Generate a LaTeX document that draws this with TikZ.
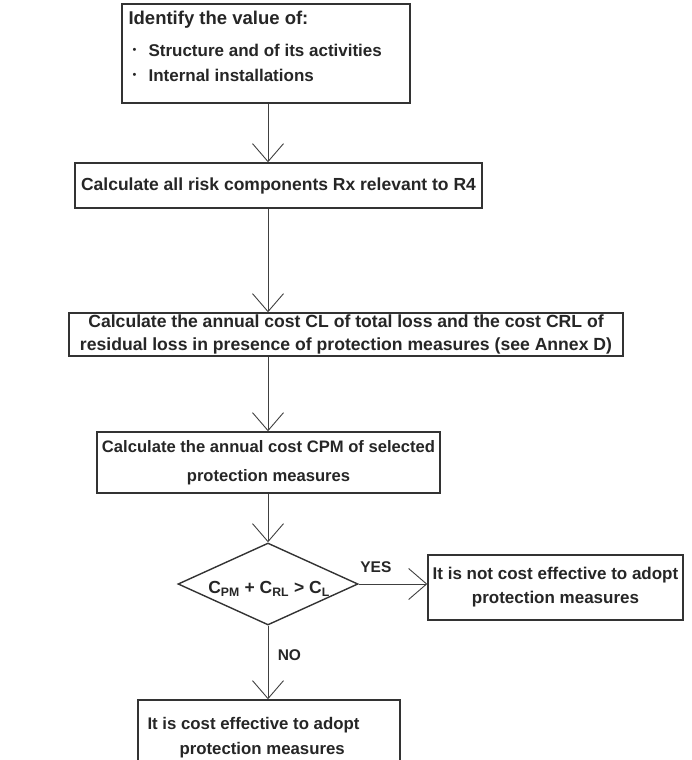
\documentclass[tikz,border=0pt]{standalone}
\usepackage{fontspec}
\setmainfont{Liberation Sans}
\usetikzlibrary{arrows.meta,shapes.geometric}
\begin{document}
\begin{tikzpicture}[x=1pt,y=-1pt,
  every node/.style={font=\fontsize{17}{23}\selectfont\bfseries, text=black!85},
  box/.style={draw=black!80, line width=1.4pt, fill=white, inner sep=0pt, align=center},
  flow/.style={draw=black!75, line width=0.9pt, -{Straight Barb[length=18pt,width=31pt,line width=0.9pt]}},
  lbl/.style={font=\fontsize{15.5}{17}\selectfont\bfseries},
  dot/.style={font=\fontsize{11}{11}\selectfont}]
\useasboundingbox (0,0) rectangle (692,760);

% spine of the vertical flow
\coordinate (spine) at (268,0);

% start box
\node[box, minimum width=288pt, minimum height=99pt] (b1) at (266,53.5) {};
\node[anchor=west, font=\fontsize{18.5}{20}\selectfont\bfseries] (t1) at (125,20) {Identify the value of:};
\node[anchor=west, dot] (d1) at (129,51) {\textbullet};
\node[anchor=west, dot] (d2) at (129,76) {\textbullet};
\node[anchor=west] (i1) at (145,50) {Structure and of its activities};
\node[anchor=west] (i2) at (145,75) {Internal installations};

% process boxes
\node[box, minimum width=407pt, minimum height=45pt, font=\fontsize{17.5}{23}\selectfont\bfseries] (b2) at (278.5,185.5)
  {Calculate all risk components Rx relevant to R4};
\node[box, minimum width=554pt, minimum height=43pt, font=\fontsize{17.6}{23}\selectfont\bfseries] (b3) at (346,334.5)
  {Calculate the annual cost CL of total loss and the cost CRL of\\residual loss in presence of protection measures (see Annex D)};
\node[box, minimum width=343pt, minimum height=61pt, font=\fontsize{16.6}{29}\selectfont\bfseries] (b4) at (268.5,462.5)
  {Calculate the annual cost CPM of selected\\protection measures};

% decision
\node[diamond, draw=black!80, line width=1.4pt, fill=white, inner sep=0pt, aspect=2.2,
  minimum width=180pt, minimum height=82pt] (d) at (268,584) {};
\node[font=\fontsize{17.5}{19}\selectfont\bfseries] (dt) at (269,589)
  {C\textsubscript{PM} + C\textsubscript{RL} > C\textsubscript{L}};

% outcomes
\node[box, minimum width=255pt, minimum height=65pt, font=\fontsize{17}{24}\selectfont\bfseries] (b5) at (555.5,587.5)
  {It is not cost effective to adopt\\protection measures};
\node[box, minimum width=262pt, minimum height=72pt] (b6) at (269,736) {};
\node[anchor=west, align=left, font=\fontsize{16.8}{25}\selectfont\bfseries] (b6t) at (144,738)
  {It is cost effective to adopt\\\hspace*{32pt}protection measures};

% connectors
\draw[flow] (b1.south -| spine) -- (b2.north -| spine);
\draw[flow] (b2.south -| spine) -- (b3.north -| spine);
\draw[flow] (b3.south -| spine) -- (b4.north -| spine);
\draw[flow] (b4.south -| spine) -- (d.north);
\draw[flow] (d.east) -- (b5.west |- d.east) node[lbl, pos=0.25, above=8pt] (yes) {YES};
\draw[flow] (d.south) -- (b6.north -| d.south) node[lbl, pos=0.4, right=6pt] (no) {NO};
\end{tikzpicture}
\end{document}
